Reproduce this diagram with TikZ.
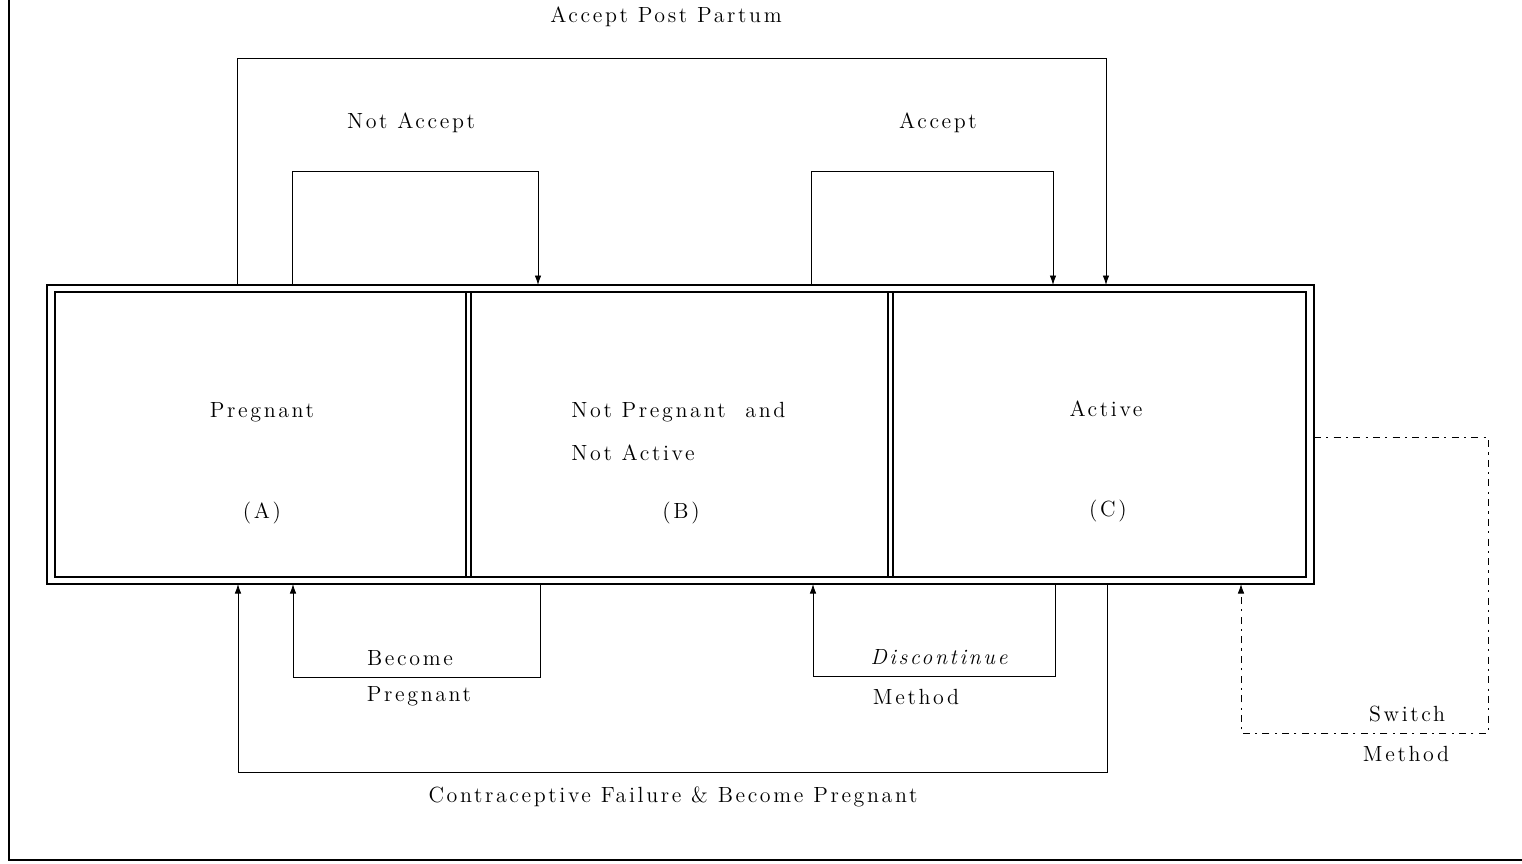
\documentclass[tikz,border=0pt]{standalone}
\usepackage{fontspec}
\setmainfont{Latin Modern Roman}[LetterSpace=12]
\usetikzlibrary{arrows.meta}
\tikzset{
  lbl/.style={font=\fontsize{12.5}{15}\selectfont, inner sep=0pt},
  ilbl/.style={font=\fontsize{12.5}{15}\selectfont\itshape, inner sep=0pt},
  flow/.style={line width=0.5pt, -{Latex[length=1.9mm,width=1.3mm]}},
  swflow/.style={flow, dash pattern=on 4pt off 3pt on 1.2pt off 3pt},
}
\begin{document}
\begin{tikzpicture}[x=0.02cm,y=-0.02cm]
        \useasboundingbox (0,0) rectangle (1522,863);
        \draw[line width=0.8pt] (9,0) -- (9,860) -- (1522,860);
        
        % states
        \draw[line width=1.2pt] (47,285) rectangle (1314,584);
        \draw[line width=1.1pt] (55,292) rectangle (1306,577);
        \draw[line width=0.9pt] (466,292) -- (466,577) (471,292) -- (471,577);
        \draw[line width=0.9pt] (888,292) -- (888,577) (893,292) -- (893,577);
        
        \node[lbl] (A) at (262,412) {Pregnant};
        \node[lbl] (a) at (262,513) {(A)};
        \node[lbl, anchor=west] (B) at (571,412) {Not Pregnant \ and};
        \node[lbl, anchor=west] (B2) at (571,453) {Not Active};
        \node[lbl] (b) at (681,513) {(B)};
        \node[lbl] (C) at (1106,409) {Active};
        \node[lbl] (c) at (1108,511) {(C)};
        
        % connector ends
        \coordinate (P1) at (237,285);
        \coordinate (P2) at (1106,58);
        \coordinate (P3) at (1106,285);
        \coordinate (N1) at (292,285);
        \coordinate (N2) at (538,171);
        \coordinate (N3) at (538,285);
        \coordinate (Q1) at (811,285);
        \coordinate (Q2) at (1053,171);
        \coordinate (Q3) at (1053,285);
        \coordinate (R1) at (540,584);
        \coordinate (R2) at (293,677);
        \coordinate (R3) at (293,584);
        \coordinate (D1) at (1055,584);
        \coordinate (D2) at (813,676);
        \coordinate (D3) at (813,584);
        \coordinate (F1) at (1107,584);
        \coordinate (F2) at (238,772);
        \coordinate (F3) at (238,584);
        \coordinate (S1) at (1314,437);
        \coordinate (S2) at (1488,733);
        \coordinate (S3) at (1241,733);
        \coordinate (S4) at (1241,584);
        
        \draw[flow] (P1) |- (P2) -- (P3);
        \draw[flow] (N1) |- (N2) -- (N3);
        \draw[flow] (Q1) |- (Q2) -- (Q3);
        \draw[flow] (R1) |- (R2) -- (R3);
        \draw[flow] (D1) |- (D2) -- (D3);
        \draw[flow] (F1) |- (F2) -- (F3);
        \draw[swflow] (S1) -| (S2) -- (S3) -- (S4);
        
        \node[lbl] (L1) at (666,17) {Accept Post Partum};
        \node[lbl] (L2) at (411,123) {Not Accept};
        \node[lbl] (L3) at (938,123) {Accept};
        \node[lbl] (L4) at (410,658) {Become};
        \node[lbl] (L5) at (419,696) {Pregnant};
        \node[ilbl] (L6) at (939,657) {Discontinue};
        \node[lbl] (L7) at (916,697) {Method};
        \node[lbl] (L8) at (673,797) {Contraceptive Failure \& Become Pregnant};
        \node[lbl] (L9) at (1407,714) {Switch};
        \node[lbl] (L10) at (1406,754) {Method};
      \end{tikzpicture}
\end{document}
